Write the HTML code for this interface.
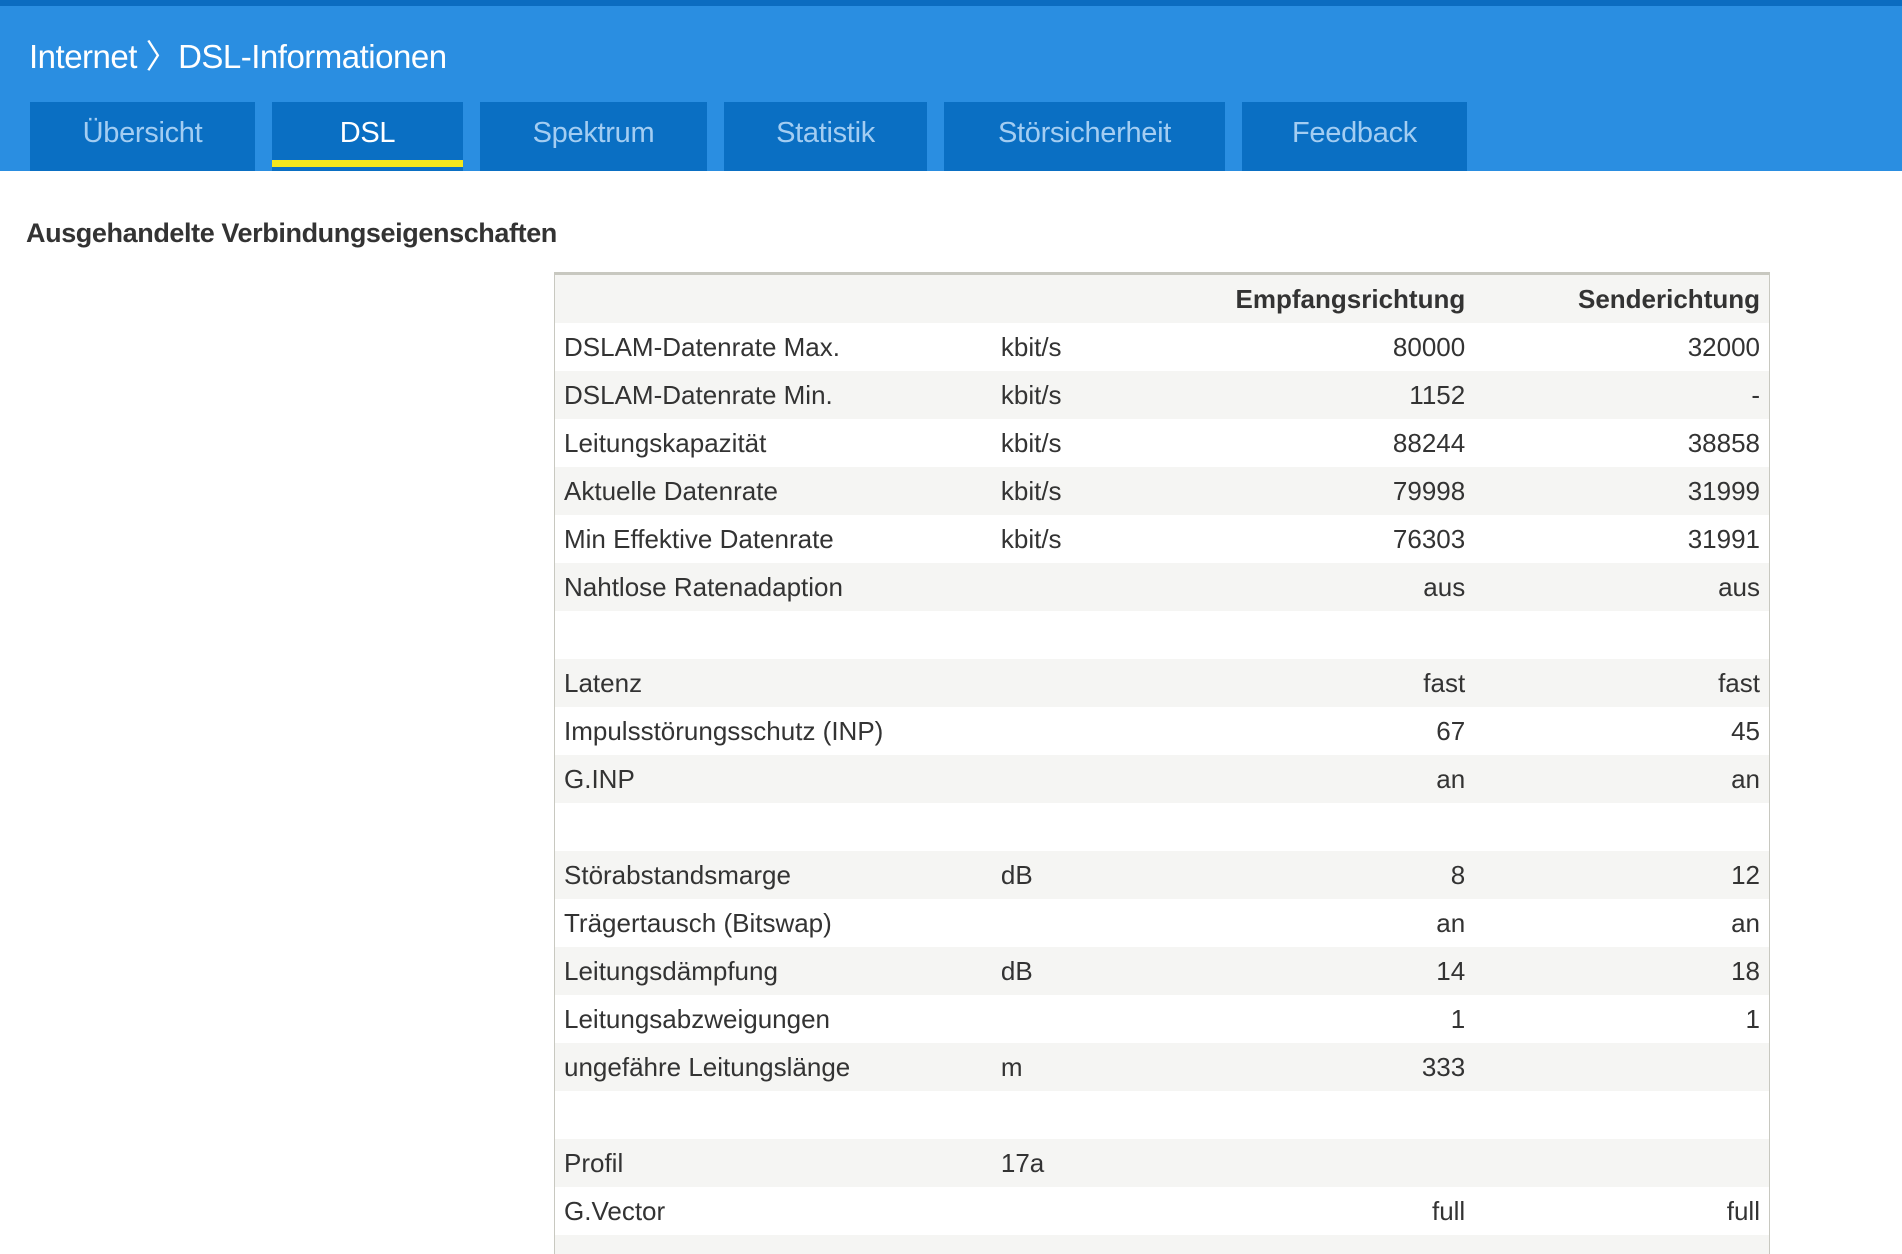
<!DOCTYPE html>
<html><head><meta charset="utf-8"><style>
html,body{margin:0;padding:0;width:1902px;height:1254px;overflow:hidden;background:#fff;}
#w{position:relative;width:1902px;height:1254px;overflow:hidden;font-family:"Liberation Sans",sans-serif;}
.top{position:absolute;left:0;top:0;width:1902px;height:6px;background:#0b6cc0;}
.hdr{position:absolute;left:0;top:6px;width:1902px;height:165px;background:#2a8ee1;}
.title{position:absolute;left:29px;top:24px;color:#fff;font-size:33px;letter-spacing:-0.5px;}
.tab{position:absolute;top:102px;height:69px;background:#0a6fc3;color:#a3cdf2;font-size:29px;text-align:center;line-height:62px;letter-spacing:-0.3px;}
.tab.act{color:#fff;}
.tab.act:after{content:"";position:absolute;left:0;right:0;top:58px;height:7px;background:#f3e61c;}
h2{position:absolute;left:26px;top:218px;margin:0;font-size:27px;color:#333;font-weight:bold;letter-spacing:-0.4px;}
table{position:absolute;left:554px;top:272px;width:1216px;border-collapse:collapse;table-layout:fixed;border:1px solid #c8c8c0;border-top:3px solid #c8c8c0;font-size:26px;color:#333;}
td{height:48px;padding:0;white-space:nowrap;overflow:visible;}
tr:nth-child(odd){background:#f5f5f3;}
tr:nth-child(even){background:#fff;}
td.l{padding-left:9px;}
td.r{text-align:right;}
td.s{text-align:right;padding-right:9px;}
</style></head><body><div id="w">
<div class="top"></div>
<div class="hdr">
<div class="title">Internet 〉DSL-Informationen</div>
</div>
<div class="tab" style="left:30px;width:225px">Übersicht</div>
<div class="tab act" style="left:272px;width:191px">DSL</div>
<div class="tab" style="left:480px;width:227px">Spektrum</div>
<div class="tab" style="left:724px;width:203px">Statistik</div>
<div class="tab" style="left:944px;width:281px">Störsicherheit</div>
<div class="tab" style="left:1242px;width:225px">Feedback</div>
<h2>Ausgehandelte Verbindungseigenschaften</h2>
<table>
<colgroup><col style="width:446px"><col style="width:200px"><col style="width:264px"><col style="width:304px"></colgroup>
<tr><td class="l"></td><td class="u"></td><td class="r"><b>Empfangsrichtung</b></td><td class="s"><b>Senderichtung</b></td></tr>
<tr><td class="l">DSLAM-Datenrate Max.</td><td class="u">kbit/s</td><td class="r">80000</td><td class="s">32000</td></tr>
<tr><td class="l">DSLAM-Datenrate Min.</td><td class="u">kbit/s</td><td class="r">1152</td><td class="s">-</td></tr>
<tr><td class="l">Leitungskapazität</td><td class="u">kbit/s</td><td class="r">88244</td><td class="s">38858</td></tr>
<tr><td class="l">Aktuelle Datenrate</td><td class="u">kbit/s</td><td class="r">79998</td><td class="s">31999</td></tr>
<tr><td class="l">Min Effektive Datenrate</td><td class="u">kbit/s</td><td class="r">76303</td><td class="s">31991</td></tr>
<tr><td class="l">Nahtlose Ratenadaption</td><td class="u"></td><td class="r">aus</td><td class="s">aus</td></tr>
<tr><td class="l"></td><td class="u"></td><td class="r"></td><td class="s"></td></tr>
<tr><td class="l">Latenz</td><td class="u"></td><td class="r">fast</td><td class="s">fast</td></tr>
<tr><td class="l">Impulsstörungsschutz (INP)</td><td class="u"></td><td class="r">67</td><td class="s">45</td></tr>
<tr><td class="l">G.INP</td><td class="u"></td><td class="r">an</td><td class="s">an</td></tr>
<tr><td class="l"></td><td class="u"></td><td class="r"></td><td class="s"></td></tr>
<tr><td class="l">Störabstandsmarge</td><td class="u">dB</td><td class="r">8</td><td class="s">12</td></tr>
<tr><td class="l">Trägertausch (Bitswap)</td><td class="u"></td><td class="r">an</td><td class="s">an</td></tr>
<tr><td class="l">Leitungsdämpfung</td><td class="u">dB</td><td class="r">14</td><td class="s">18</td></tr>
<tr><td class="l">Leitungsabzweigungen</td><td class="u"></td><td class="r">1</td><td class="s">1</td></tr>
<tr><td class="l">ungefähre Leitungslänge</td><td class="u">m</td><td class="r">333</td><td class="s"></td></tr>
<tr><td class="l"></td><td class="u"></td><td class="r"></td><td class="s"></td></tr>
<tr><td class="l">Profil</td><td class="u">17a</td><td class="r"></td><td class="s"></td></tr>
<tr><td class="l">G.Vector</td><td class="u"></td><td class="r">full</td><td class="s">full</td></tr>
<tr><td class="l"></td><td class="u"></td><td class="r"></td><td class="s"></td></tr>
<tr><td class="l"></td><td class="u"></td><td class="r"></td><td class="s"></td></tr>
</table>
</div></body></html>
